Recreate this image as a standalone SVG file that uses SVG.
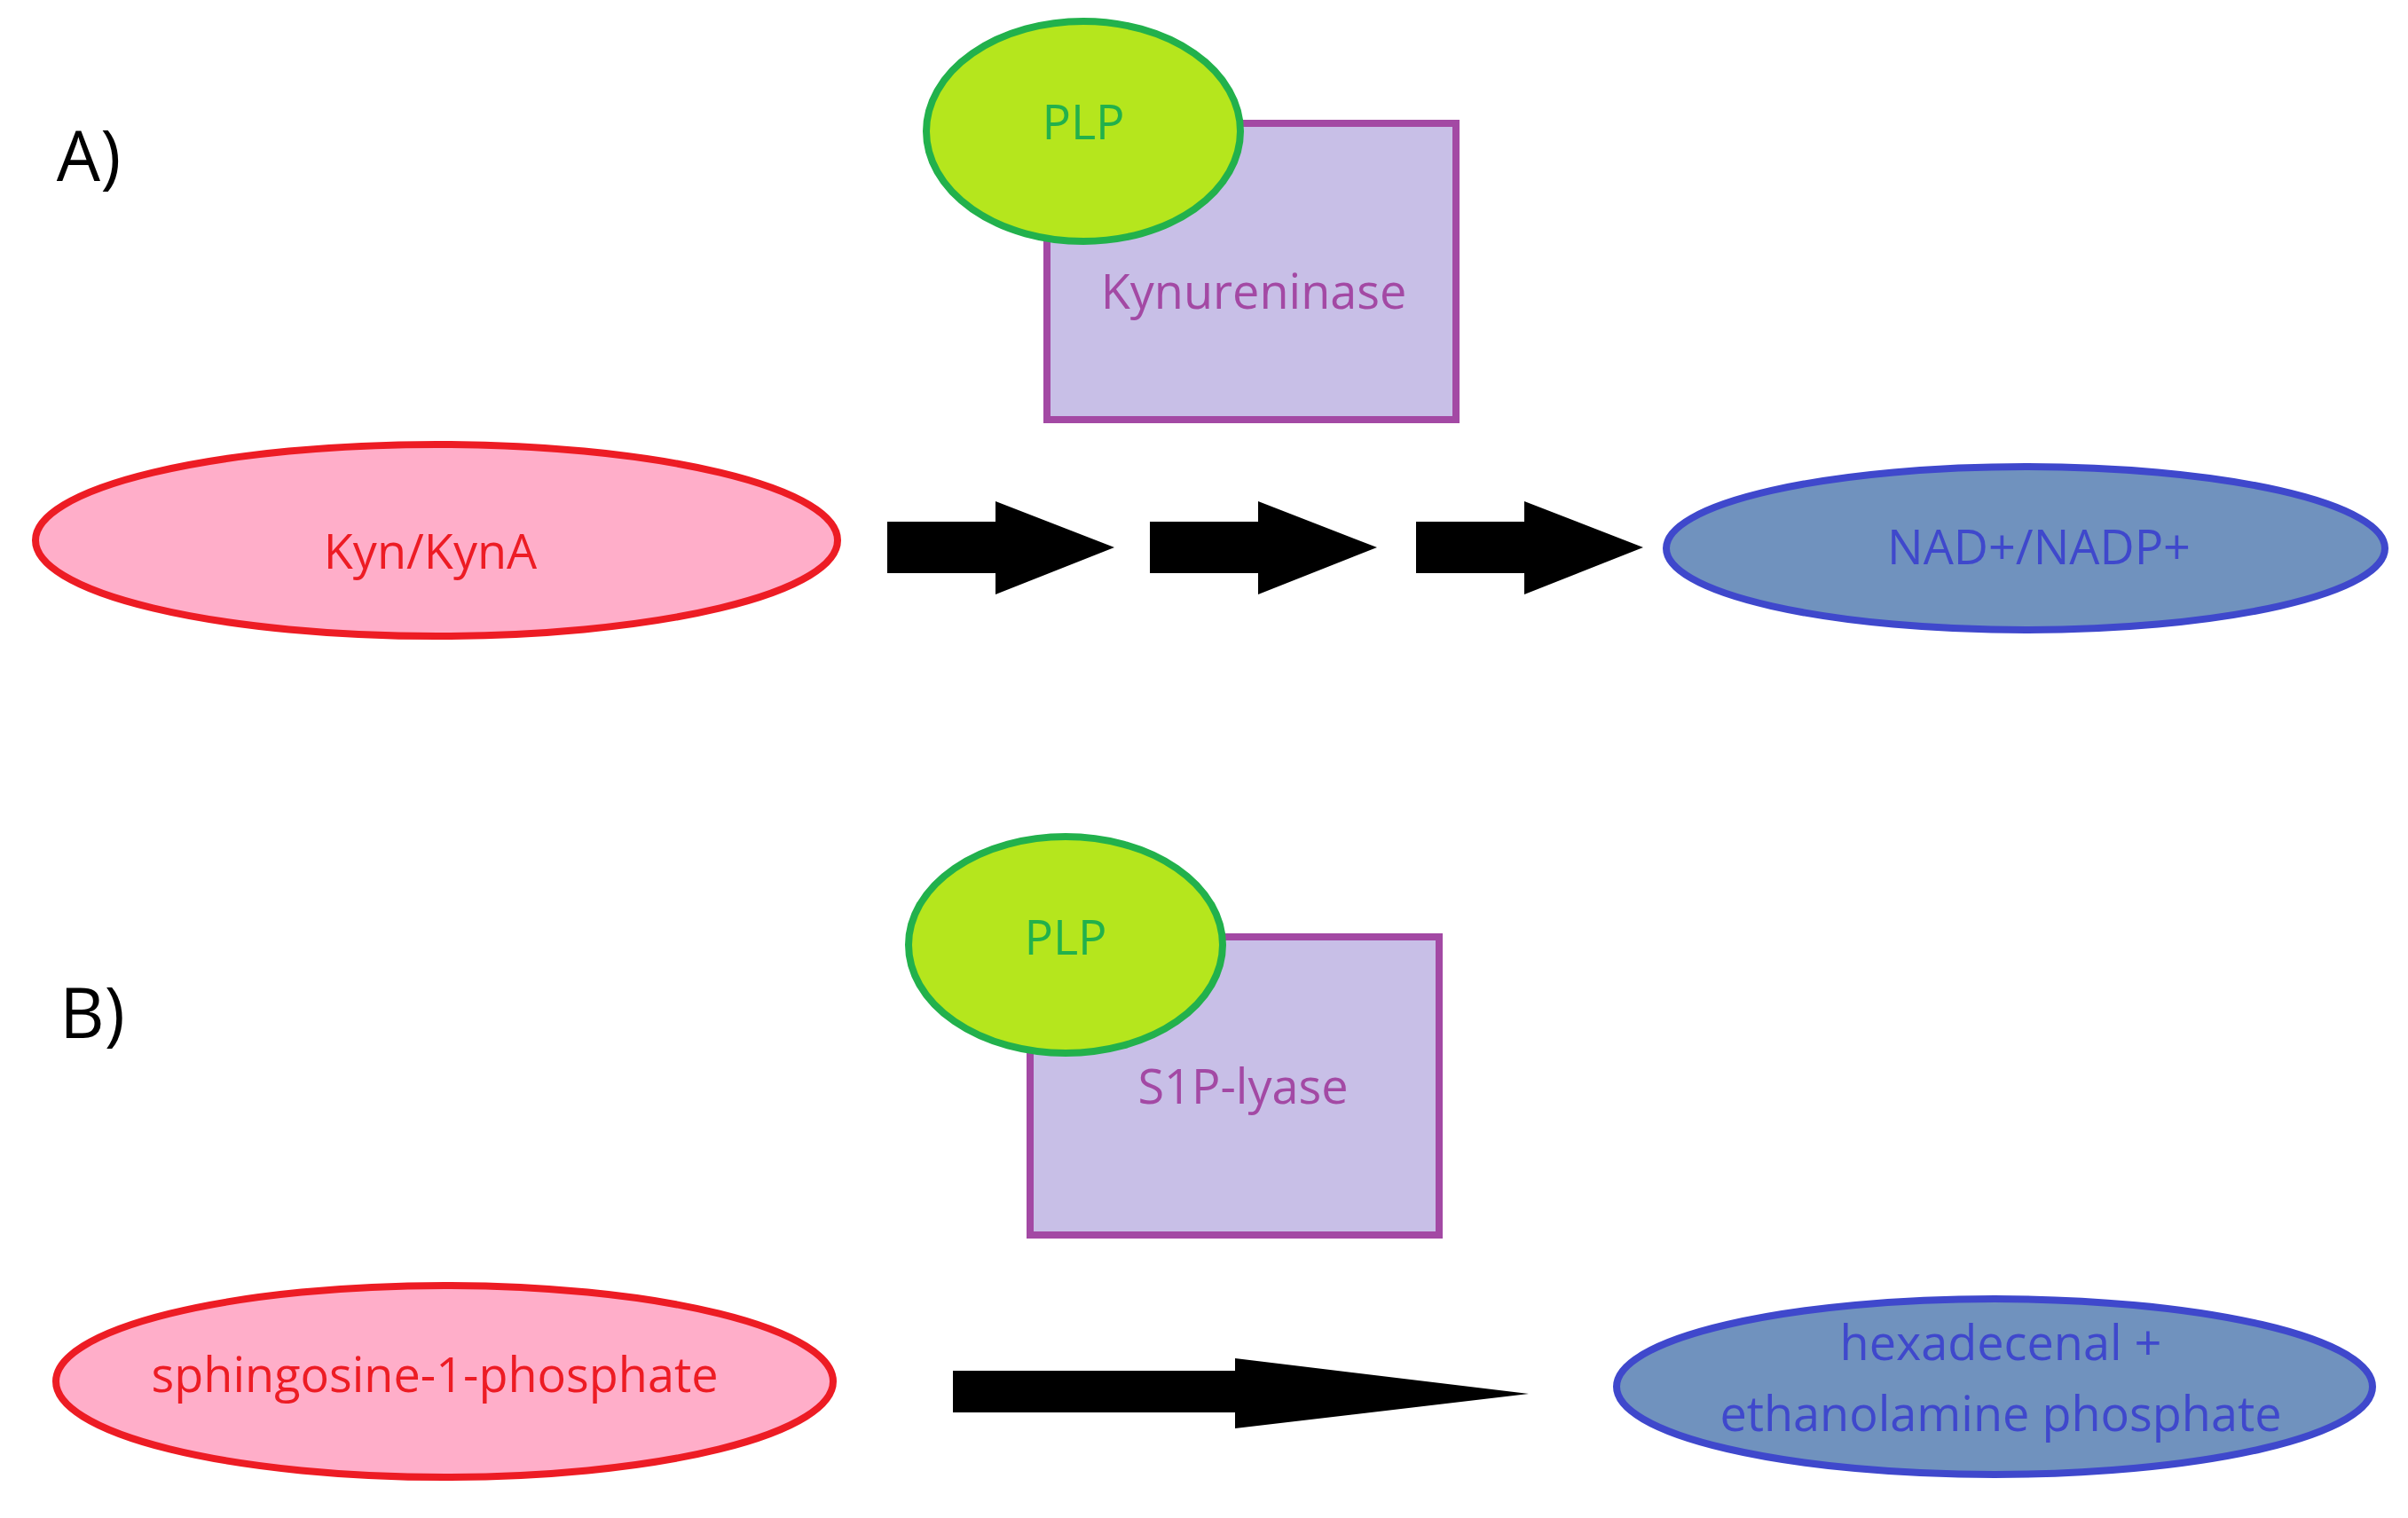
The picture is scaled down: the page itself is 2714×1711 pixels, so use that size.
<svg xmlns="http://www.w3.org/2000/svg" width="2714" height="1711" viewBox="0 0 2714 1711">
<style>
text{font-family:"Open Sans","Liberation Sans",sans-serif;text-anchor:middle;dominant-baseline:central}
.lbl{font-size:78px;fill:#000}
.plp{fill:#b5e61d;stroke:#22b14c;stroke-width:8}
.plpt{font-size:54px;fill:#22b14c}
.enz{fill:#c8bfe7;stroke:#a349a4;stroke-width:8}
.enzt{font-size:54px;fill:#a349a4}
.sub{fill:#ffaec9;stroke:#ed1c24;stroke-width:8}
.subt{font-size:54px;fill:#ed1c24}
.prod{fill:#7092be;stroke:#3f48cc;stroke-width:8}
.prodt{font-size:54px;fill:#3f48cc}
</style>
<defs>
<path id="arr" d="M0,-29 H122 V-52 L256,0 L122,53 V29 H0 Z" fill="#000"/>
</defs>
<text class="lbl" x="100" y="174">A)</text>
<text class="lbl" x="104" y="1140">B)</text>
<g id="kynureninase"><rect class="enz" x="1180" y="139" width="461" height="334"/><text class="enzt" x="1413" y="327">Kynureninase</text></g>
<g id="plpA"><ellipse class="plp" cx="1221" cy="148" rx="177" ry="124"/><text class="plpt" x="1221" y="136">PLP</text></g>
<g id="kyn"><ellipse class="sub" cx="492" cy="609" rx="452" ry="108"/><text class="subt" x="485" y="620">Kyn/KynA</text></g>
<g id="nad"><ellipse class="prod" cx="2283" cy="618" rx="405" ry="92"/><text class="prodt" x="2298" y="615">NAD+/NADP+</text></g>
<g id="s1plyase"><rect class="enz" x="1161" y="1056" width="461" height="336"/><text class="enzt" x="1401" y="1223">S1P-lyase</text></g>
<g id="plpB"><ellipse class="plp" cx="1201" cy="1065" rx="177" ry="122"/><text class="plpt" x="1201" y="1055">PLP</text></g>
<g id="s1p"><ellipse class="sub" cx="501" cy="1557" rx="438" ry="108"/><text class="subt" x="490" y="1548">sphingosine-1-phosphate</text></g>
<g id="hexa"><ellipse class="prod" cx="2248" cy="1563" rx="426" ry="99"/><text class="prodt" x="2255" y="1512">hexadecenal +</text><text class="prodt" x="2255" y="1592">ethanolamine phosphate</text></g>
<g id="connectors">
<use href="#arr" x="1000" y="617"/>
<use href="#arr" x="1296" y="617"/>
<use href="#arr" x="1596" y="617"/>
<path d="M1074,1545 H1392 V1531 L1723,1571 L1392,1610 V1592 H1074 Z" fill="#000"/>
</g>
</svg>
